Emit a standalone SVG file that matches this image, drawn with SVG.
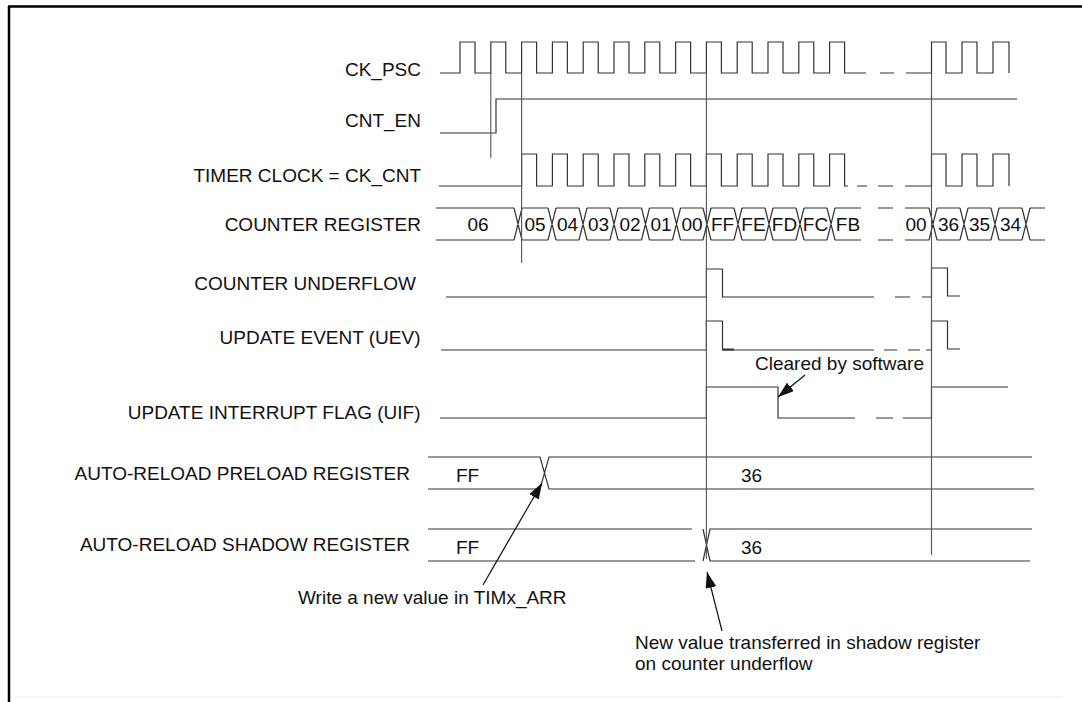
<svg xmlns="http://www.w3.org/2000/svg" width="1082" height="702" viewBox="0 0 1082 702">
<style>
text{font-family:"Liberation Sans",Arial,sans-serif;font-size:19px;fill:#111}
.lbl{text-anchor:end}
.val{text-anchor:middle}
.w{fill:none;stroke:#333;stroke-width:1.2}
.ref{fill:none;stroke:#555;stroke-width:1.1}
.arr{fill:none;stroke:#111;stroke-width:1.2}
</style>
<defs>
<marker id="ah" markerUnits="userSpaceOnUse" markerWidth="18" markerHeight="12" refX="16" refY="5.5" orient="auto">
<path d="M0,0 L16,5.5 L0,11 z" fill="#111"/>
</marker>
</defs>
<rect width="1082" height="702" fill="#fff"/>
<g id="frame">
<line x1="8" y1="6.5" x2="1082" y2="6.5" stroke="#000" stroke-width="2.5"/>
<line x1="9" y1="6" x2="9" y2="702" stroke="#000" stroke-width="2.5"/>
<line x1="14" y1="697" x2="1062" y2="697" stroke="#ececec" stroke-width="1"/>
</g>
<g id="ck_psc">
<text class="lbl" x="421" y="76">CK_PSC</text>
<path class="w" d="M440,73 H460 V42 H475 V73 H490.8 V42 H505.8 V73 H521.6 V42 H536.6 V73 H552.4 V42 H567.4 V73 H583.2 V42 H598.2 V73 H614 V42 H629 V73 H644.8 V42 H659.8 V73 H675.6 V42 H690.6 V73 H706.4 V42 H721.4 V73 H737.2 V42 H752.2 V73 H768 V42 H783 V73 H798.8 V42 H813.8 V73 H829.6 V42 H844.6 V73 H866 M880,73 H894 M906,73 H931.5 V42 H946 V73 H962 V42 H977 V73 H993 V42 H1009 V73"/>
</g>
<g id="cnt_en">
<text class="lbl" x="421" y="127">CNT_EN</text>
<path class="w" d="M440,133 H496 V99 H1017"/>
</g>
<g id="ck_cnt">
<text class="lbl" x="421" y="182">TIMER CLOCK = CK_CNT</text>
<path class="w" d="M439,186 H521.6 V154 H536.6 V186 H552.4 V154 H567.4 V186 H583.2 V154 H598.2 V186 H614 V154 H629 V186 H644.8 V154 H659.8 V186 H675.6 V154 H690.6 V186 H706.4 V154 H721.4 V186 H737.2 V154 H752.2 V186 H768 V154 H783 V186 H798.8 V154 H813.8 V186 H829.6 V154 H844.6 V186 H848 M857,186 H867 M878,186 H893 M905,186 H931.5 V154 H946 V186 H962 V154 H977 V186 H993 V154 H1009 V186"/>
</g>
<g id="counter_register">
<text class="lbl" x="421" y="231">COUNTER REGISTER</text>
<path class="w" d="M436,208 H514 M522,208 H548 M556,208 H579 M587,208 H610 M618,208 H641.5 M649.5,208 H672.5 M680.5,208 H703 M711,208 H734 M742,208 H765 M773,208 H796 M804,208 H827 M835,208 H861 M878,208 H893 M905,208 H929 M937,208 H960 M968,208 H991 M999,208 H1022 M1030,208 H1045 M436,240 H514 M522,240 H548 M556,240 H579 M587,240 H610 M618,240 H641.5 M649.5,240 H672.5 M680.5,240 H703 M711,240 H734 M742,240 H765 M773,240 H796 M804,240 H827 M835,240 H861 M878,240 H893 M905,240 H929 M937,240 H960 M968,240 H991 M999,240 H1022 M1030,240 H1045 M514,208 L522,240 M514,240 L522,208 M548,208 L556,240 M548,240 L556,208 M579,208 L587,240 M579,240 L587,208 M610,208 L618,240 M610,240 L618,208 M641.5,208 L649.5,240 M641.5,240 L649.5,208 M672.5,208 L680.5,240 M672.5,240 L680.5,208 M703,208 L711,240 M703,240 L711,208 M734,208 L742,240 M734,240 L742,208 M765,208 L773,240 M765,240 L773,208 M796,208 L804,240 M796,240 L804,208 M827,208 L835,240 M827,240 L835,208 M929,208 L937,240 M929,240 L937,208 M960,208 L968,240 M960,240 L968,208 M991,208 L999,240 M991,240 L999,208 M1022,208 L1030,240 M1022,240 L1030,208"/>
<text class="val" x="478" y="231">06</text>
<text class="val" x="535" y="231">05</text>
<text class="val" x="567.5" y="231">04</text>
<text class="val" x="598.5" y="231">03</text>
<text class="val" x="630" y="231">02</text>
<text class="val" x="661" y="231">01</text>
<text class="val" x="692" y="231">00</text>
<text class="val" x="722.5" y="231">FF</text>
<text class="val" x="753.5" y="231">FE</text>
<text class="val" x="784.5" y="231">FD</text>
<text class="val" x="815.5" y="231">FC</text>
<text class="val" x="848" y="231">FB</text>
<text class="val" x="916" y="231">00</text>
<text class="val" x="948.5" y="231">36</text>
<text class="val" x="979.5" y="231">35</text>
<text class="val" x="1010.5" y="231">34</text>
</g>
<g id="counter_underflow">
<text class="lbl" x="416" y="290">COUNTER UNDERFLOW</text>
<path class="w" d="M446,297 H706.4 V269 H722.5 V297 H874 M895,297 H910 M922,297 H931.5 V268 H947.5 V296 H960"/>
</g>
<g id="uev">
<text class="lbl" x="420.5" y="344">UPDATE EVENT (UEV)</text>
<path class="w" d="M441,350 H706.4 V321 H722.5 V350 H874 M884,350 H897 M908,350 H920 M926,350 H931.5 V321 H947.5 V349 H960"/>
<path d="M722.5,349.5 H734" stroke="#333" stroke-width="2"/>
</g>
<g id="uif">
<text class="lbl" x="420.5" y="419">UPDATE INTERRUPT FLAG (UIF)</text>
<path class="w" d="M440,418 H706.4 V387 H778 V418 H855 M876,418 H893 M903,418 H931.5 V387 H1008"/>
<text x="755" y="369.5">Cleared by software</text>
</g>
<g id="arr_preload">
<text class="lbl" x="410" y="480">AUTO-RELOAD PRELOAD REGISTER</text>
<path class="w" d="M428,457 H540 L549,489 H1034 M428,489 H540 L549,457 H1032"/>
<text x="456" y="482">FF</text>
<text x="741" y="482">36</text>
</g>
<g id="arr_shadow">
<text class="lbl" x="410" y="551">AUTO-RELOAD SHADOW REGISTER</text>
<path class="w" d="M428,529 H692 M428,561 H695 M703,529 L710,561 H1030 M703,561 L710,529 H1032"/>
<text x="456" y="554">FF</text>
<text x="741" y="554">36</text>
</g>
<g id="notes">
<text x="298" y="604">Write a new value in TIMx_ARR</text>
<text x="635" y="649">New value transferred in shadow register</text>
<text x="635" y="670">on counter underflow</text>
</g>
<g id="connectors">
<path class="ref" d="M490.8,73 V158 M521.6,73 V263 M706.4,73 V559 M931.5,73 V555"/>
<line class="arr" x1="805" y1="375" x2="778" y2="397" marker-end="url(#ah)"/>
<line class="arr" x1="483" y1="585" x2="542" y2="483" marker-end="url(#ah)"/>
<line class="arr" x1="722" y1="631" x2="707" y2="572" marker-end="url(#ah)"/>
</g>
</svg>
